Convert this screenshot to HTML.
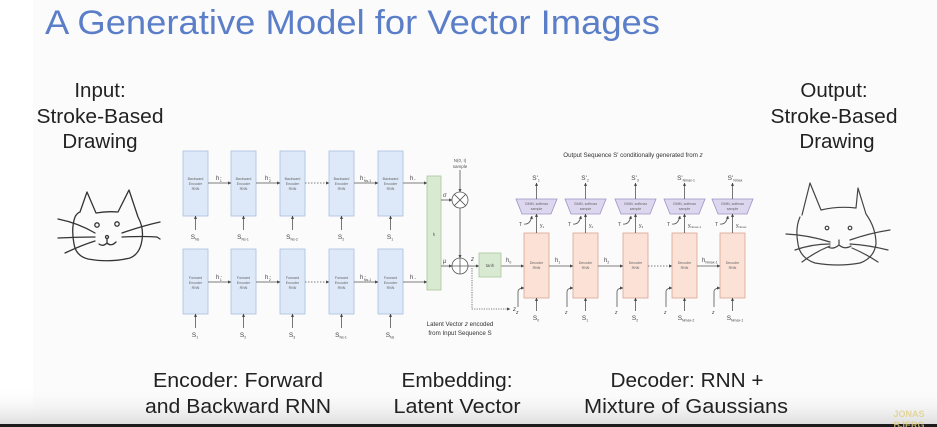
<!DOCTYPE html>
<html><head><meta charset="utf-8"><style>
html,body{margin:0;padding:0;background:#fcfcfc;}
svg{display:block;}
</style></head><body>
<svg width="937" height="427" viewBox="0 0 937 427" xmlns="http://www.w3.org/2000/svg" font-family="Liberation Sans, Arial, sans-serif">
<defs>
<marker id="ah" viewBox="0 0 6 6" refX="5.5" refY="3" markerWidth="4" markerHeight="4" orient="auto"><path d="M0,0 L6,3 L0,6 z" fill="#444"/></marker>
<linearGradient id="bg" x1="0" y1="0" x2="0" y2="1"><stop offset="0" stop-color="#fcfcfc" stop-opacity="0"/><stop offset="1" stop-color="#dedede"/></linearGradient>
</defs>
<rect width="937" height="427" fill="#fbfbfb"/>
<rect width="33" height="427" fill="#ffffff"/>
<rect x="0" y="388" width="937" height="36" fill="url(#bg)"/>
<rect x="0" y="424" width="937" height="3" fill="#1c1c1c"/>

<!-- Title -->
<text x="45" y="34" font-size="34" fill="#5b7ec8" textLength="615" lengthAdjust="spacingAndGlyphs">A Generative Model for Vector Images</text>

<!-- Side texts -->
<g font-size="20.5" fill="#222" text-anchor="middle">
<text x="100" y="97">Input:</text>
<text x="100" y="123" textLength="127" lengthAdjust="spacingAndGlyphs">Stroke-Based</text>
<text x="100" y="148">Drawing</text>
<text x="834" y="97">Output:</text>
<text x="834" y="123" textLength="127" lengthAdjust="spacingAndGlyphs">Stroke-Based</text>
<text x="837" y="148">Drawing</text>
</g>

<!-- Bottom texts -->
<g font-size="20.5" fill="#222" text-anchor="middle">
<text x="238" y="387" textLength="170" lengthAdjust="spacingAndGlyphs">Encoder: Forward</text>
<text x="238" y="413" textLength="186" lengthAdjust="spacingAndGlyphs">and Backward RNN</text>
<text x="457" y="387" textLength="111" lengthAdjust="spacingAndGlyphs">Embedding:</text>
<text x="457" y="413" textLength="127" lengthAdjust="spacingAndGlyphs">Latent Vector</text>
<text x="687" y="387" textLength="153" lengthAdjust="spacingAndGlyphs">Decoder: RNN +</text>
<text x="686" y="413" textLength="204" lengthAdjust="spacingAndGlyphs">Mixture of Gaussians</text>
</g>
<g font-size="9" font-weight="bold" fill="#e0cf86" opacity="0.8" text-anchor="middle">
<text x="909" y="417">JONAS</text>
<text x="909" y="428">BJERG</text>
</g>

<!-- Left cat -->
<g fill="none" stroke="#333" stroke-width="1.3" stroke-linecap="round" stroke-linejoin="round">
<path d="M80,212 L87,192 L96,213 Q107,211 118,212 L129,190 L138,217 Q144,228 142,240 Q140,254 130,258 Q110,263 88,259 Q76,256 74,244 Q71,228 75,217 Q77,213 80,212"/>
<path d="M58,219 Q78,223 95,233"/>
<path d="M58,238 Q78,237 95,237"/>
<path d="M65,253 Q82,245 95,241"/>
<path d="M122,233 Q142,226 160,222"/>
<path d="M122,237 Q142,236 157,237 L160,239"/>
<circle cx="97" cy="225" r="2.2"/>
<circle cx="117" cy="224" r="2.2"/>
<circle cx="107" cy="237" r="1.5"/>
<path d="M107,239 L107,243 Q103,247 99,244 M107,243 Q111,247 116,242"/>
</g>

<!-- Right cat -->
<g fill="none" stroke="#444" stroke-width="1.2" stroke-linecap="round" stroke-linejoin="round">
<path d="M802,215 L810,183 L821,210 Q838,206 856,208 L858,188 L866,214 Q876,228 876,244 Q874,258 860,263 Q838,267 815,263 Q800,258 798,244 Q795,228 800,217"/>
<path d="M786,234 Q808,235 830,242"/>
<path d="M795,250 Q812,244 830,244"/>
<path d="M802,262 Q815,252 830,246"/>
<path d="M850,240 Q870,233 890,230"/>
<path d="M850,244 Q868,245 888,250"/>
<path d="M852,248 Q866,254 878,262"/>
<circle cx="827" cy="228" r="1.8"/>
<circle cx="850" cy="228" r="1.8"/>
<path d="M839,240 L839,245 Q833,250 828,247 M839,245 Q845,250 851,246"/>
</g>

<!-- ENCODER -->
<g stroke="#a9bfe0" stroke-width="0.8" fill="#dde8f8">
<rect x="183" y="151" width="25" height="65"/><rect x="231" y="151" width="25" height="65"/><rect x="280" y="151" width="25" height="65"/><rect x="329" y="151" width="25" height="65"/><rect x="378" y="151" width="25" height="65"/>
<rect x="183" y="249" width="25" height="65"/><rect x="231" y="249" width="25" height="65"/><rect x="280" y="249" width="25" height="65"/><rect x="329" y="249" width="25" height="65"/><rect x="378" y="249" width="25" height="65"/>
</g>
<g font-size="3.6" fill="#666" text-anchor="middle">
<text x="195.5" y="180">Backward</text><text x="195.5" y="185">Encoder</text><text x="195.5" y="190">RNN</text>
<text x="243.5" y="180">Backward</text><text x="243.5" y="185">Encoder</text><text x="243.5" y="190">RNN</text>
<text x="292.5" y="180">Backward</text><text x="292.5" y="185">Encoder</text><text x="292.5" y="190">RNN</text>
<text x="341.5" y="180">Backward</text><text x="341.5" y="185">Encoder</text><text x="341.5" y="190">RNN</text>
<text x="390.5" y="180">Backward</text><text x="390.5" y="185">Encoder</text><text x="390.5" y="190">RNN</text>
<text x="195.5" y="279">Forward</text><text x="195.5" y="284">Encoder</text><text x="195.5" y="289">RNN</text>
<text x="243.5" y="279">Forward</text><text x="243.5" y="284">Encoder</text><text x="243.5" y="289">RNN</text>
<text x="292.5" y="279">Forward</text><text x="292.5" y="284">Encoder</text><text x="292.5" y="289">RNN</text>
<text x="341.5" y="279">Forward</text><text x="341.5" y="284">Encoder</text><text x="341.5" y="289">RNN</text>
<text x="390.5" y="279">Forward</text><text x="390.5" y="284">Encoder</text><text x="390.5" y="289">RNN</text>
</g>
<g stroke="#555" stroke-width="0.8" fill="none" marker-end="url(#ah)">
<line x1="208" y1="183" x2="231" y2="183"/><line x1="256" y1="183" x2="280" y2="183"/><line x1="305" y1="183" x2="329" y2="183" stroke-dasharray="1.5,1.5"/><line x1="354" y1="183" x2="378" y2="183"/><line x1="403" y1="183" x2="427" y2="183"/>
<line x1="208" y1="282" x2="231" y2="282"/><line x1="256" y1="282" x2="280" y2="282"/><line x1="305" y1="282" x2="329" y2="282" stroke-dasharray="1.5,1.5"/><line x1="354" y1="282" x2="378" y2="282"/><line x1="403" y1="282" x2="427" y2="282"/>
<line x1="195.5" y1="230" x2="195.5" y2="216"/><line x1="243.5" y1="230" x2="243.5" y2="216"/><line x1="292.5" y1="230" x2="292.5" y2="216"/><line x1="341.5" y1="230" x2="341.5" y2="216"/><line x1="390.5" y1="230" x2="390.5" y2="216"/>
<line x1="195.5" y1="328" x2="195.5" y2="314"/><line x1="243.5" y1="328" x2="243.5" y2="314"/><line x1="292.5" y1="328" x2="292.5" y2="314"/><line x1="341.5" y1="328" x2="341.5" y2="314"/><line x1="390.5" y1="328" x2="390.5" y2="314"/>
</g>
<g font-size="6" fill="#444">
<text x="216" y="180">h<tspan font-size="3.5" dy="-2">←</tspan><tspan font-size="3.5" dx="-3" dy="4">1</tspan></text>
<text x="265" y="180">h<tspan font-size="3.5" dy="-2">←</tspan><tspan font-size="3.5" dx="-3" dy="4">2</tspan></text>
<text x="360" y="180">h<tspan font-size="3.5" dy="-2">←</tspan><tspan font-size="3.5" dx="-3" dy="4">Ns-1</tspan></text>
<text x="410" y="180">h<tspan font-size="3.5">←</tspan></text>
<text x="216" y="279">h<tspan font-size="3.5" dy="-2">→</tspan><tspan font-size="3.5" dx="-3" dy="4">1</tspan></text>
<text x="265" y="279">h<tspan font-size="3.5" dy="-2">→</tspan><tspan font-size="3.5" dx="-3" dy="4">2</tspan></text>
<text x="360" y="279">h<tspan font-size="3.5" dy="-2">→</tspan><tspan font-size="3.5" dx="-3" dy="4">Ns-1</tspan></text>
<text x="410" y="279">h<tspan font-size="3.5">→</tspan></text>
</g>
<g font-size="6.5" fill="#444" text-anchor="middle">
<text x="195" y="239">S<tspan font-size="3.5" dy="1.5">Ns</tspan></text>
<text x="243" y="239">S<tspan font-size="3.5" dy="1.5">Ns-1</tspan></text>
<text x="292" y="239">S<tspan font-size="3.5" dy="1.5">Ns-2</tspan></text>
<text x="341" y="239">S<tspan font-size="3.5" dy="1.5">2</tspan></text>
<text x="390" y="239">S<tspan font-size="3.5" dy="1.5">1</tspan></text>
<text x="195" y="337">S<tspan font-size="3.5" dy="1.5">1</tspan></text>
<text x="243" y="337">S<tspan font-size="3.5" dy="1.5">2</tspan></text>
<text x="292" y="337">S<tspan font-size="3.5" dy="1.5">3</tspan></text>
<text x="341" y="337">S<tspan font-size="3.5" dy="1.5">Ns-1</tspan></text>
<text x="390" y="337">S<tspan font-size="3.5" dy="1.5">Ns</tspan></text>
</g>

<!-- LATENT -->
<rect x="427" y="176" width="14" height="114" fill="#d9ead3" stroke="#a8c89c" stroke-width="0.8"/>
<text x="434" y="236" font-size="4.5" fill="#555" text-anchor="middle">h</text>
<g stroke="#555" stroke-width="0.8" fill="none">
<line x1="441" y1="200" x2="452" y2="200" marker-end="url(#ah)"/>
<line x1="441" y1="266" x2="452" y2="266" marker-end="url(#ah)"/>
<line x1="460" y1="170" x2="460" y2="192" marker-end="url(#ah)"/>
<line x1="460" y1="208" x2="460" y2="258" marker-end="url(#ah)"/>
<circle cx="460" cy="200" r="8" fill="#fff"/>
<path d="M454.3,194.3 L465.7,205.7 M465.7,194.3 L454.3,205.7"/>
<circle cx="460" cy="266" r="8" fill="#fff"/>
<path d="M452,266 L468,266 M460,258 L460,274"/>
<line x1="468" y1="266" x2="479" y2="266" marker-end="url(#ah)"/>
<path d="M472,268 L472,309 L510,309" stroke-dasharray="1.2,1.2" marker-end="url(#ah)"/>
<line x1="501" y1="266" x2="524" y2="266" marker-end="url(#ah)"/>
</g>
<rect x="479" y="253" width="22" height="24" fill="#d9ead3" stroke="#a8c89c" stroke-width="0.8"/>
<g font-size="4.5" fill="#555" text-anchor="middle">
<text x="490" y="267">tanh</text>
<text x="460" y="162">N(0, I)</text>
<text x="460" y="168">sample</text>
</g>
<g font-size="6" fill="#444" font-style="italic">
<text x="443" y="197">σ</text>
<text x="443" y="263">μ</text>
<text x="471" y="261">z</text>
<text x="513" y="311">z</text>
<text x="506" y="262" font-style="normal">h<tspan font-size="3.5" dy="1.5">0</tspan></text>
</g>
<g font-size="6.2" fill="#333" text-anchor="middle">
<text x="460" y="326">Latent Vector <tspan font-style="italic">z</tspan> encoded</text>
<text x="460" y="335">from Input Sequence S</text>
<text x="633" y="157">Output Sequence S' conditionally generated from <tspan font-style="italic">z</tspan></text>
</g>

<!-- DECODER -->
<g stroke="#d9a595" stroke-width="0.8" fill="#fbe1d6">
<rect x="524" y="233" width="25" height="65"/><rect x="573" y="233" width="25" height="65"/><rect x="623" y="233" width="25" height="65"/><rect x="672" y="233" width="25" height="65"/><rect x="720" y="233" width="25" height="65"/>
</g>
<g stroke="#9b93c4" stroke-width="0.8" fill="#dcd7ee">
<path d="M516,199 L557,199 L551,214 L522,214 Z"/>
<path d="M565,199 L606,199 L600,214 L571,214 Z"/>
<path d="M615,199 L656,199 L650,214 L621,214 Z"/>
<path d="M664,199 L705,199 L699,214 L670,214 Z"/>
<path d="M712,199 L753,199 L747,214 L718,214 Z"/>
</g>
<g font-size="3.6" fill="#666" text-anchor="middle">
<text x="536.5" y="264">Decoder</text><text x="536.5" y="269">RNN</text>
<text x="585.5" y="264">Decoder</text><text x="585.5" y="269">RNN</text>
<text x="635.5" y="264">Decoder</text><text x="635.5" y="269">RNN</text>
<text x="684.5" y="264">Decoder</text><text x="684.5" y="269">RNN</text>
<text x="732.5" y="264">Decoder</text><text x="732.5" y="269">RNN</text>
<text x="536.5" y="205">GMM, softmax</text><text x="536.5" y="210">sample</text>
<text x="585.5" y="205">GMM, softmax</text><text x="585.5" y="210">sample</text>
<text x="635.5" y="205">GMM, softmax</text><text x="635.5" y="210">sample</text>
<text x="684.5" y="205">GMM, softmax</text><text x="684.5" y="210">sample</text>
<text x="732.5" y="205">GMM, softmax</text><text x="732.5" y="210">sample</text>
</g>
<g stroke="#555" stroke-width="0.8" fill="none" marker-end="url(#ah)">
<line x1="549" y1="266" x2="573" y2="266"/><line x1="598" y1="266" x2="623" y2="266"/><line x1="648" y1="266" x2="672" y2="266" stroke-dasharray="1.5,1.5"/><line x1="697" y1="266" x2="720" y2="266"/>
<line x1="536.5" y1="233" x2="536.5" y2="214"/><line x1="585.5" y1="233" x2="585.5" y2="214"/><line x1="635.5" y1="233" x2="635.5" y2="214"/><line x1="684.5" y1="233" x2="684.5" y2="214"/><line x1="732.5" y1="233" x2="732.5" y2="214"/>
<line x1="536.5" y1="199" x2="536.5" y2="183"/><line x1="585.5" y1="199" x2="585.5" y2="183"/><line x1="635.5" y1="199" x2="635.5" y2="183"/><line x1="684.5" y1="199" x2="684.5" y2="183"/><line x1="732.5" y1="199" x2="732.5" y2="183"/>
<line x1="536.5" y1="311" x2="536.5" y2="298"/><line x1="585.5" y1="311" x2="585.5" y2="298"/><line x1="635.5" y1="311" x2="635.5" y2="298"/><line x1="684.5" y1="311" x2="684.5" y2="298"/><line x1="732.5" y1="311" x2="732.5" y2="298"/>
<path d="M518,307 L518,292 Q518,288 524,288"/><path d="M567,307 L567,292 Q567,288 573,288"/><path d="M617,307 L617,292 Q617,288 623,288"/><path d="M666,307 L666,292 Q666,288 672,288"/><path d="M714,307 L714,292 Q714,288 720,288"/>
<path d="M524,224 Q530,225 532,216"/><path d="M573,224 Q579,225 581,216"/><path d="M623,224 Q629,225 631,216"/><path d="M672,224 Q678,225 680,216"/><path d="M720,224 Q726,225 728,216"/>
</g>
<g font-size="6" fill="#444">
<text x="555" y="262">h<tspan font-size="3.5" dy="1.5">1</tspan></text>
<text x="604" y="262">h<tspan font-size="3.5" dy="1.5">2</tspan></text>
<text x="702" y="262">h<tspan font-size="3.5" dy="1.5">Nmax-1</tspan></text>
</g>
<g font-size="5" fill="#444">
<text x="519" y="226">T</text><text x="568" y="226">T</text><text x="618" y="226">T</text><text x="667" y="226">T</text><text x="715" y="226">T</text>
<text x="540" y="227">y<tspan font-size="3" dy="1">1</tspan></text>
<text x="589" y="227">y<tspan font-size="3" dy="1">2</tspan></text>
<text x="639" y="227">y<tspan font-size="3" dy="1">3</tspan></text>
<text x="688" y="227">y<tspan font-size="3" dy="1">Nmax-1</tspan></text>
<text x="736" y="227">y<tspan font-size="3" dy="1">Nmax</tspan></text>
<text x="516" y="314" font-style="italic">z</text><text x="565" y="314" font-style="italic">z</text><text x="615" y="314" font-style="italic">z</text><text x="664" y="314" font-style="italic">z</text><text x="712" y="314" font-style="italic">z</text>
</g>
<g font-size="6.5" fill="#444" text-anchor="middle">
<text x="536" y="180">S'<tspan font-size="3.5" dy="1.5">1</tspan></text>
<text x="585" y="180">S'<tspan font-size="3.5" dy="1.5">2</tspan></text>
<text x="635" y="180">S'<tspan font-size="3.5" dy="1.5">3</tspan></text>
<text x="686" y="180">S'<tspan font-size="3.5" dy="1.5">Nmax-1</tspan></text>
<text x="735" y="180">S'<tspan font-size="3.5" dy="1.5">Nmax</tspan></text>
<text x="536" y="320">S<tspan font-size="3.5" dy="1.5">0</tspan></text>
<text x="585" y="320">S<tspan font-size="3.5" dy="1.5">1</tspan></text>
<text x="635" y="320">S<tspan font-size="3.5" dy="1.5">2</tspan></text>
<text x="686" y="320">S<tspan font-size="3.5" dy="1.5">Nmax-2</tspan></text>
<text x="735" y="320">S<tspan font-size="3.5" dy="1.5">Nmax-1</tspan></text>
</g>
</svg>
</body></html>
